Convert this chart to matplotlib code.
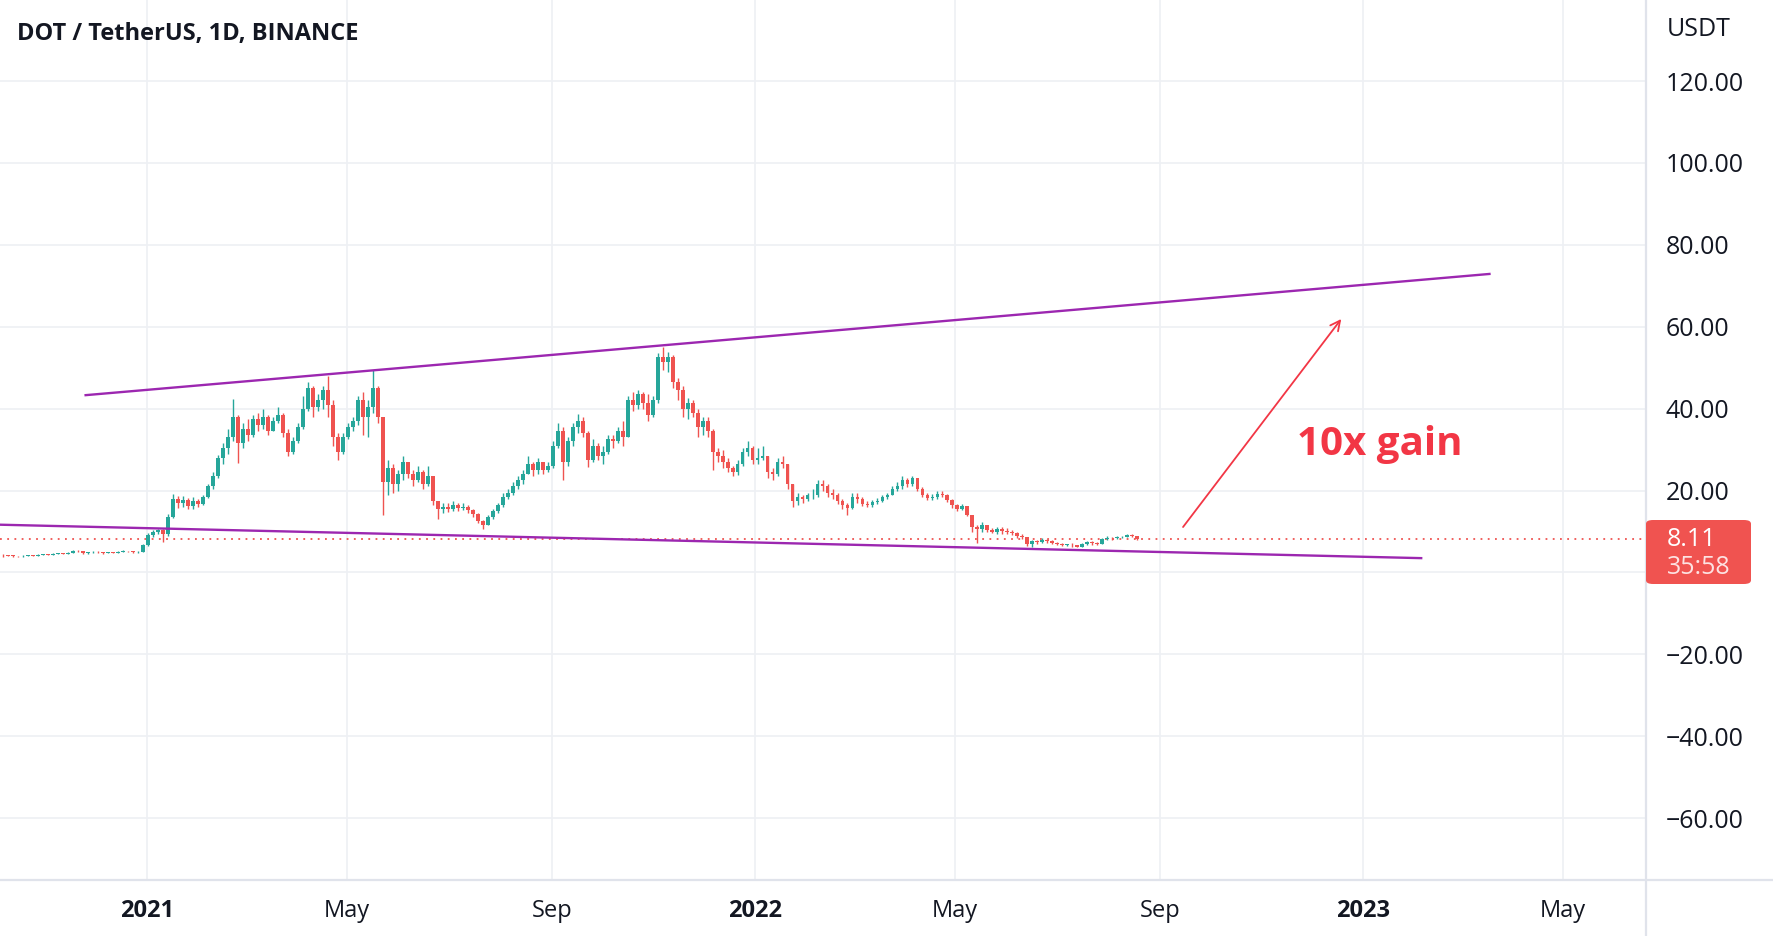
import matplotlib
matplotlib.use("Agg")
import matplotlib.pyplot as plt
import matplotlib.dates as mdates
from matplotlib.patches import FancyBboxPatch
from matplotlib.lines import Line2D
import numpy as np
import pandas as pd

plt.rcParams['font.family'] = ['Open Sans', 'DejaVu Sans']

# DOT/USDT, 3-day bars (open = previous close)
start = '2020-10-05'
first_open = 4.30
close = [
    4.15, 4.05, 4.00, 3.95, 4.10, 4.15, 4.05, 4.30, 4.45, 4.35,
    4.50, 4.60, 4.55, 4.85, 5.35, 5.20, 4.70, 4.95, 5.05, 4.90,
    4.75, 4.90, 4.80, 5.00, 5.30, 5.15, 4.95, 5.10, 6.60, 9.20,
    10.0, 10.3, 9.5, 13.5, 18.0, 17.0, 17.8, 16.3, 17.5, 16.8,
    18.5, 21.0, 23.5, 28.0, 30.5, 33.0, 38.0, 31.5, 35.0, 33.5,
    37.5, 36.0, 38.0, 34.5, 37.0, 38.5, 34.0, 29.5, 32.0, 35.5,
    40.0, 45.0, 40.5, 42.0, 44.5, 41.0, 33.0, 29.5, 33.0, 35.5,
    37.0, 42.0, 38.0, 40.5, 45.0, 38.0, 22.0, 25.5, 21.5, 24.0,
    27.0, 24.0, 22.5, 24.5, 21.5, 23.5, 17.5, 15.5, 16.0, 15.5,
    16.5, 15.8, 16.0, 15.2, 14.2, 12.5, 11.5, 13.5, 15.0, 16.5,
    18.5, 19.5, 21.0, 22.5, 24.0, 26.5, 25.0, 27.0, 25.0, 26.0,
    31.0, 34.5, 27.0, 32.0, 35.5, 37.0, 34.0, 27.5, 31.0, 28.5,
    29.5, 32.5, 32.0, 34.5, 33.0, 42.0, 41.0, 43.5, 41.5, 38.5,
    42.0, 52.5, 51.5, 52.5, 46.5, 44.5, 40.0, 41.5, 39.0, 35.5,
    37.0, 34.5, 29.5, 28.5, 27.0, 25.5, 24.5, 26.5, 29.5, 30.5,
    27.5, 28.0, 28.5, 24.5, 24.0, 27.0, 26.5, 21.5, 17.5, 18.5,
    18.0, 18.8, 19.0, 21.5, 21.0, 19.5, 19.0, 17.5, 16.5, 15.8,
    18.5, 18.0, 16.8, 16.5, 17.2, 17.5, 18.5, 19.0, 20.5, 21.0,
    22.5, 21.5, 23.0, 20.5, 19.0, 18.2, 18.5, 19.2, 19.0, 17.8,
    16.5, 15.5, 16.2, 14.0, 11.0, 10.5, 11.5, 10.3, 10.0, 10.5,
    10.2, 10.0, 9.6, 9.0, 8.6, 6.9, 7.6, 7.5, 8.0, 7.6,
    7.3, 6.9, 6.7, 6.8, 6.6, 6.3, 6.9, 7.4, 7.1, 7.0,
    8.2, 8.5, 8.3, 8.6, 8.7, 9.1, 9.0, 8.11,
]
high = [
    4.40, 4.25, 4.15, 4.10, 4.25, 4.30, 4.20, 4.45, 4.60, 4.55,
    4.65, 4.75, 4.80, 5.00, 5.60, 5.50, 5.30, 5.10, 5.20, 5.15,
    4.95, 5.05, 5.00, 5.15, 5.45, 5.35, 5.25, 5.25, 7.00, 9.60,
    10.4, 10.7, 10.6, 14.2, 19.2, 18.6, 18.6, 18.2, 18.4, 18.0,
    19.0, 21.5, 24.5, 28.8, 31.5, 35.0, 42.3, 38.5, 36.5, 37.5,
    38.5, 39.0, 40.0, 38.5, 38.0, 40.3, 39.0, 35.0, 33.0, 36.5,
    43.0, 46.5, 45.5, 43.5, 45.5, 48.0, 42.0, 34.0, 34.0, 36.5,
    38.0, 43.0, 44.0, 42.0, 49.5, 45.5, 38.0, 27.5, 26.5, 25.0,
    28.5, 27.0, 25.0, 26.0, 25.0, 26.0, 23.5, 17.5, 17.0, 17.0,
    17.5, 17.0, 17.0, 16.5, 15.5, 14.5, 12.8, 14.0, 15.5, 17.0,
    19.5, 20.5, 22.0, 23.5, 25.0, 28.5, 27.0, 28.0, 27.0, 27.0,
    32.0, 36.5, 35.5, 33.0, 36.5, 38.8, 38.0, 34.5, 32.5, 31.5,
    31.0, 33.5, 33.5, 35.5, 37.0, 43.0, 44.0, 44.5, 44.0, 43.5,
    43.0, 53.5, 55.0, 53.8, 53.0, 47.5, 45.5, 42.5, 42.0, 40.0,
    38.0, 38.0, 35.0, 30.5, 30.0, 28.0, 26.0, 27.5, 30.5, 32.0,
    31.0, 30.5, 31.0, 28.5, 25.5, 28.0, 28.5, 26.5, 21.5, 19.5,
    19.0, 19.5, 20.5, 22.5, 22.7, 21.5, 20.5, 19.5, 18.0, 17.0,
    19.5, 19.5, 18.5, 17.5, 17.8, 18.2, 19.0, 19.5, 21.0, 22.0,
    23.5, 23.0, 23.5, 23.0, 20.8, 19.5, 19.2, 19.8, 20.0, 19.2,
    18.0, 16.8, 16.8, 16.2, 13.5, 11.5, 12.3, 11.6, 10.8, 11.0,
    11.0, 10.8, 10.3, 9.8, 9.5, 8.7, 7.9, 8.0, 8.3, 8.2,
    7.9, 7.4, 7.1, 7.0, 7.1, 6.8, 7.1, 7.6, 7.6, 7.4,
    8.5, 8.9, 8.7, 8.9, 9.0, 9.4, 9.3, 9.0,
]
low = [
    3.90, 3.95, 3.85, 3.85, 3.90, 4.00, 3.95, 4.00, 4.20, 4.20,
    4.30, 4.40, 4.40, 4.50, 4.80, 5.00, 4.50, 4.60, 4.85, 4.75,
    4.60, 4.70, 4.65, 4.75, 4.95, 4.95, 4.80, 4.85, 5.05, 6.50,
    8.6, 9.5, 7.5, 8.8, 13.2, 15.8, 16.0, 15.6, 15.4, 16.0,
    16.5, 18.2, 20.5, 23.0, 26.5, 29.0, 32.0, 26.8, 30.5, 32.0,
    33.0, 34.5, 35.0, 33.5, 34.5, 36.5, 33.0, 28.5, 29.0, 31.5,
    35.0, 39.5, 38.0, 39.5, 40.0, 38.0, 31.0, 27.5, 29.0, 32.5,
    34.5, 36.0, 33.5, 33.0, 39.0, 36.5, 14.0, 19.0, 19.5, 20.0,
    22.5, 23.0, 21.0, 22.0, 20.5, 21.0, 16.5, 13.0, 14.5, 14.8,
    15.0, 15.0, 15.2, 14.5, 13.5, 12.0, 10.5, 11.5, 13.0, 14.5,
    16.0, 18.0, 19.0, 20.5, 21.5, 24.0, 23.5, 24.0, 24.0, 24.5,
    25.5, 30.5, 22.5, 26.0, 31.0, 34.0, 33.0, 25.8, 27.0, 27.5,
    26.5, 29.0, 30.5, 31.5, 31.0, 33.0, 39.5, 40.0, 40.0, 37.0,
    38.0, 41.5, 49.5, 49.0, 45.0, 42.0, 38.0, 37.5, 38.0, 33.0,
    33.5, 33.0, 25.0, 27.0, 25.5, 24.5, 23.5, 23.8, 26.0, 28.5,
    26.5, 26.5, 27.5, 23.0, 22.5, 23.5, 25.5, 20.5, 16.0, 16.5,
    17.0, 17.5, 18.0, 18.5, 20.0, 18.5, 18.0, 16.8, 15.5, 14.0,
    15.5, 17.0, 16.2, 16.0, 16.0, 16.8, 17.2, 18.0, 18.8, 20.0,
    20.5, 20.8, 21.0, 19.8, 18.5, 17.8, 17.8, 18.0, 18.5, 17.2,
    15.8, 15.0, 15.2, 13.8, 10.0, 7.3, 10.0, 9.8, 9.6, 9.5,
    9.4, 9.5, 9.2, 8.5, 8.2, 6.5, 6.2, 7.0, 7.2, 7.3,
    7.0, 6.6, 6.4, 6.4, 6.3, 6.1, 6.2, 6.8, 6.8, 6.7,
    6.9, 8.0, 8.0, 8.1, 8.3, 8.6, 8.7, 8.0,
]

last_price = 8.11
countdown = '35:58'

# drawings on the chart
upper_dates = ['2020-11-25', '2023-03-18']
upper_vals = [43.3, 72.9]
lower_dates = ['2020-10-01', '2023-02-05']
lower_vals = [11.7, 3.5]
arrow_dates = ['2022-09-15', '2022-12-19']
arrow_vals = [11.1, 61.9]
note_date = '2023-01-11'
note_val = 28.7
note_text = '10x gain'

ytick_vals = [-60, -40, -20, 0, 20, 40, 60, 80, 100, 120]
xtick_dates = ['2021-01-01', '2021-05-01', '2021-09-01', '2022-01-01',
               '2022-05-01', '2022-09-01', '2023-01-01', '2023-05-01']
xtick_labels = ['2021', 'May', 'Sep', '2022', 'May', 'Sep', '2023', 'May']

UP = '#26a69a'
DOWN = '#ef5350'
TXT = '#131722'
GRID = '#eef0f4'
LINE = '#e0e3eb'

W, H = 1774, 936
fig = plt.figure(figsize=(W / 100, H / 100), dpi=100)
fig.patch.set_facecolor('white')
ax = fig.add_axes([0, 56 / H, 1646 / W, 880 / H])

opens = np.array([first_open] + close[:-1])
closes = np.array(close)
highs = np.maximum(np.array(high), np.maximum(opens, closes))
lows = np.minimum(np.array(low), np.minimum(opens, closes))
dates = pd.date_range(start, periods=len(close), freq='3D') + pd.Timedelta(hours=36)
x = mdates.date2num(dates)
cols = np.where(closes >= opens, UP, DOWN)

ax.vlines(x, lows, highs, colors=cols, lw=1.0, zorder=3)
body = np.maximum(np.abs(closes - opens), 0.15)
ax.bar(x, body, bottom=np.minimum(opens, closes), width=2.3, color=cols,
       linewidth=0, zorder=4)

ax.axhline(last_price, color=DOWN, lw=1.3, ls=(0, (1, 3)), zorder=2)

purple = '#9c27b0'
ax.plot(pd.to_datetime(upper_dates), upper_vals, color=purple, lw=1.7, zorder=5)
ax.plot(pd.to_datetime(lower_dates), lower_vals, color=purple, lw=1.7, zorder=5)

red = '#f23645'
ad = mdates.date2num(pd.to_datetime(arrow_dates))
ax.annotate('', xy=(ad[1], arrow_vals[1]), xytext=(ad[0], arrow_vals[0]),
            arrowprops=dict(arrowstyle='->,head_length=0.7,head_width=0.35',
                            color=red, lw=1.3, shrinkA=0, shrinkB=0), zorder=6)
ax.text(mdates.date2num(pd.Timestamp(note_date)), note_val, note_text,
        color=red, fontsize=29, fontweight='bold', ha='center', va='baseline',
        zorder=6)

ax.set_xlim(pd.Timestamp('2020-10-04 14:00'), pd.Timestamp('2023-06-20'))
ax.set_ylim(-75.1, 139.8)

ax.set_yticks(ytick_vals)
ax.set_yticklabels([('%.2f' % v).replace('-', '\u2212') if v != 0 else '' for v in ytick_vals])
ax.yaxis.tick_right()
ax.tick_params(axis='y', length=0, pad=14, labelsize=18, labelcolor=TXT)

ax.set_xticks(mdates.date2num(pd.to_datetime(xtick_dates)))
ax.set_xticklabels(xtick_labels)
ax.tick_params(axis='x', length=0, pad=14, labelsize=17, labelcolor=TXT)
for lab in ax.get_xticklabels():
    if lab.get_text().isdigit():
        lab.set_fontweight('bold')

ax.grid(True, color=GRID, lw=1.2, zorder=0)
ax.set_axisbelow(True)
for s in ax.spines.values():
    s.set_visible(False)

# axis separators across the whole figure
fig.add_artist(Line2D([1646 / W, 1646 / W], [0, 1], color=LINE, lw=1.6))
fig.add_artist(Line2D([0, 1], [56 / H, 56 / H], color=LINE, lw=1.6))

fig.text(17 / W, 1 - 34 / H, 'DOT / TetherUS, 1D, BINANCE', fontsize=17,
         fontweight='bold', color=TXT, va='center', ha='left')
fig.text(1667 / W, 1 - 29 / H, 'USDT', fontsize=18, color=TXT, va='center', ha='left')

tag = FancyBboxPatch((1646 / W, 1 - 584 / H), 105 / W, 64 / H,
                     boxstyle='round,pad=0,rounding_size=0.004',
                     transform=fig.transFigure, facecolor='#f05350',
                     edgecolor='none', zorder=10)
fig.add_artist(tag)
fig.text(1667 / W, 1 - 540 / H, '%.2f' % last_price, fontsize=18, color='white',
         va='center', ha='left', zorder=11)
fig.text(1667 / W, 1 - 567 / H, countdown, fontsize=18, color='#fde2e2',
         va='center', ha='left', zorder=11)

fig.savefig('out.png', dpi=100, facecolor='white')
